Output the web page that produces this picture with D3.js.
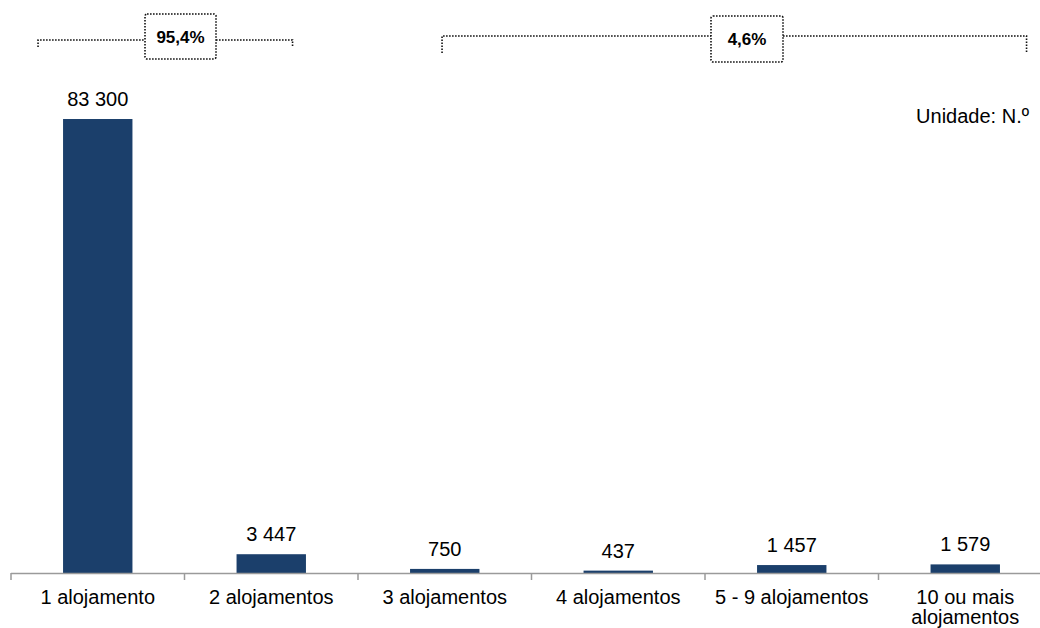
<!DOCTYPE html>
<html>
<head>
<meta charset="utf-8">
<script src="https://cdn.jsdelivr.net/npm/d3@7/dist/d3.min.js"></script>
<style>
  html, body { margin: 0; padding: 0; background: #fff; }
  svg { display: block; font-family: "Liberation Sans", Arial, sans-serif; }
</style>
</head>
<body>
<div id="chart"></div>
<script>
// Alojamentos por edifício
const categories = ["1 alojamento", "2 alojamentos", "3 alojamentos", "4 alojamentos", "5 - 9 alojamentos", "10 ou mais alojamentos"];
const categoryLines = [["1 alojamento"], ["2 alojamentos"], ["3 alojamentos"], ["4 alojamentos"], ["5 - 9 alojamentos"], ["10 ou mais", "alojamentos"]];
const values = [83300, 3447, 750, 437, 1457, 1579];
const valueLabels = ["83 300", "3 447", "750", "437", "1 457", "1 579"];
const groupLabels = ["95,4%", "4,6%"];
const groupFrom = [0, 2];
const groupTo = [1, 5];
const unitLabel = "Unidade: N.º";

const W = 1040, H = 628;
const baseY = 573;
const barColor = "#1b3f6b";
const axisColor = "#9a9a9a";
const fontSize = 20;

const svg = d3.select("#chart").append("svg")
  .attr("width", W).attr("height", H);

const x = d3.scaleBand()
  .domain(categories)
  .range([11, 1052])
  .paddingInner(0.6)
  .paddingOuter(0.3);
const step = x.step();

const y = d3.scaleLinear()
  .domain([0, 90000])
  .range([baseY, 82.5]);

// bars
svg.append("g").selectAll("rect")
  .data(values)
  .join("rect")
  .attr("x", (d, i) => x(categories[i]))
  .attr("width", x.bandwidth())
  .attr("y", d => y(d))
  .attr("height", d => y(0) - y(d))
  .attr("fill", barColor);

// value labels
svg.append("g").selectAll("text")
  .data(values)
  .join("text")
  .attr("x", (d, i) => x(categories[i]) + x.bandwidth() / 2)
  .attr("y", d => y(d) - 13)
  .attr("text-anchor", "middle")
  .attr("font-size", fontSize)
  .attr("fill", "#000")
  .text((d, i) => valueLabels[i]);

// category axis
const axis = svg.append("g").attr("stroke", axisColor).attr("stroke-width", 1.5);
axis.append("line")
  .attr("x1", 11).attr("x2", W)
  .attr("y1", baseY + 0.5).attr("y2", baseY + 0.5);
const bounds = categories.map(c => x(c) - step * 0.3);
axis.selectAll("line.tick")
  .data(bounds)
  .join("line")
  .attr("class", "tick")
  .attr("x1", d => d).attr("x2", d => d)
  .attr("y1", baseY).attr("y2", baseY + 7);

const catG = svg.append("g");
categoryLines.forEach((lines, i) => {
  const cx = x(categories[i]) + x.bandwidth() / 2;
  const t = catG.append("text")
    .attr("x", cx)
    .attr("y", 604)
    .attr("text-anchor", "middle")
    .attr("font-size", fontSize)
    .attr("fill", "#000");
  lines.forEach((ln, k) => {
    t.append("tspan")
      .attr("x", cx)
      .attr("dy", k === 0 ? 0 : 20)
      .text(ln);
  });
});

// unit note
svg.append("text")
  .attr("x", 1029).attr("y", 123)
  .attr("text-anchor", "end")
  .attr("font-size", fontSize)
  .attr("fill", "#000")
  .text(unitLabel);

// group share brackets
const bracketSpec = [
  { left: x(categories[groupFrom[0]]) - 25, right: x(categories[groupTo[0]]) + 56, lineY: 40, endY: 47, boxCx: 180.5, boxY: 14, boxW: 71, boxH: 45 },
  { left: x(categories[groupFrom[1]]) + 32, right: x(categories[groupTo[1]]) + 96, lineY: 36, endY: 53, boxCx: 747, boxY: 16, boxW: 72, boxH: 46 }
];
const dots = { stroke: "#111", "stroke-width": 1.6, "stroke-dasharray": "1.6 1.4", fill: "none" };
bracketSpec.forEach((b, i) => {
  const g = svg.append("g");
  const path = d3.path();
  path.moveTo(b.left, b.endY);
  path.lineTo(b.left, b.lineY);
  path.lineTo(b.boxCx - b.boxW / 2, b.lineY);
  path.moveTo(b.boxCx + b.boxW / 2, b.lineY);
  path.lineTo(b.right, b.lineY);
  path.lineTo(b.right, b.endY);
  const p = g.append("path").attr("d", path.toString());
  Object.entries(dots).forEach(([k, v]) => p.attr(k, v));
  const r = g.append("rect")
    .attr("x", b.boxCx - b.boxW / 2).attr("y", b.boxY)
    .attr("width", b.boxW).attr("height", b.boxH)
    .attr("rx", 2);
  Object.entries(dots).forEach(([k, v]) => r.attr(k, v));
  r.attr("fill", "#fff");
  g.append("text")
    .attr("x", b.boxCx).attr("y", b.boxY + b.boxH / 2 + 6)
    .attr("text-anchor", "middle")
    .attr("font-size", 17)
    .attr("font-weight", "bold")
    .attr("fill", "#000")
    .text(groupLabels[i]);
});
</script>
</body>
</html>
